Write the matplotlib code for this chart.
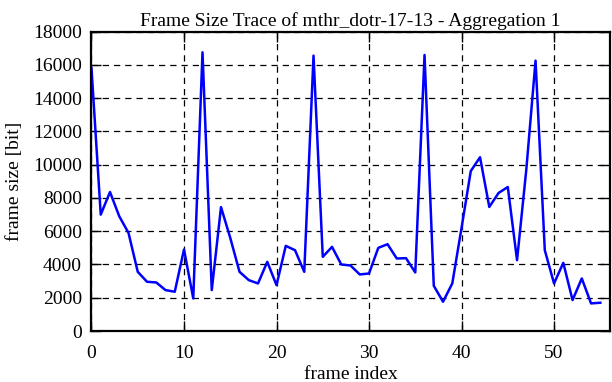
import matplotlib
matplotlib.use("Agg")
import matplotlib.pyplot as plt

# frame sizes (bits), one per frame index 0..55
frame_size = [15800, 7000, 8360, 6900, 5900, 3560, 2960, 2920, 2460, 2360,
              4900, 1960, 16760, 2460, 7450, 5600, 3560, 3060, 2860, 4160,
              2760, 5120, 4860, 3560, 16560, 4460, 5060, 4000, 3940, 3400,
              3460, 5000, 5220, 4360, 4380, 3520, 16600, 2720, 1760, 2860,
              6200, 9620, 10450, 7460, 8300, 8660, 4260, 9700, 16260, 4860,
              2860, 4100, 1860, 3160, 1660, 1700]
frame_index = list(range(len(frame_size)))

x_ticks = [0, 10, 20, 30, 40, 50]
y_ticks = list(range(0, 18001, 2000))

plt.rcParams['font.family'] = ['Liberation Serif', 'DejaVu Serif']
plt.rcParams['font.size'] = 14

fig = plt.figure(figsize=(6.12, 3.82), dpi=100)
ax = fig.add_axes([0.1495, 0.1335, 0.8465, 0.7835])

ax.plot(frame_index, frame_size, color='#0000ff', linewidth=1.8)

ax.set_xlim(0, 56)
ax.set_ylim(0, 18000)
ax.set_xticks(x_ticks)
ax.set_yticks(y_ticks)

ax.grid(True, color='black', linestyle=(0, (5, 4)), linewidth=0.9)
ax.tick_params(direction='in', length=7, width=1, top=True, right=True,
               labelsize=14)
ax.tick_params(axis='x', pad=10)
ax.tick_params(axis='y', pad=7)
for s in ax.spines.values():
    s.set_linewidth(1.6)

ax.set_title("Frame Size Trace of mthr_dotr-17-13 - Aggregation 1",
             fontsize=14, pad=4)
ax.set_xlabel("frame index", fontsize=14, labelpad=3)
ax.set_ylabel("frame size [bit]", fontsize=14, labelpad=7)

fig.savefig("out.png", dpi=100)
